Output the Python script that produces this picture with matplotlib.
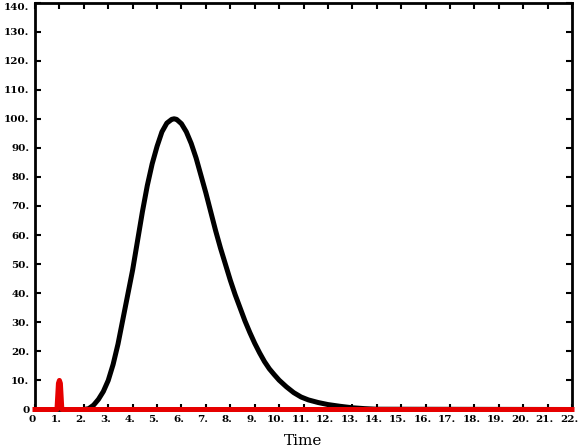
import matplotlib
matplotlib.use("Agg")
import matplotlib.pyplot as plt
from matplotlib.transforms import ScaledTranslation

# black curve, values
time_black = [0, 2.0, 2.2, 2.4, 2.6, 2.8, 3.0, 3.2, 3.4, 3.6, 3.8, 4.0, 4.2, 4.4,
              4.6, 4.8, 5.0, 5.2, 5.4, 5.6, 5.7, 5.8, 6.0, 6.2, 6.4, 6.6, 6.8,
              7.0, 7.2, 7.4, 7.6, 7.8, 8.0, 8.2, 8.4, 8.6, 8.8, 9.0, 9.2, 9.4,
              9.6, 9.8, 10.0, 10.3, 10.6, 10.9, 11.2, 11.6, 12.0, 12.5, 13.0,
              13.5, 14.0, 22]
val_black = [0, 0, 0.3, 1.5, 3.5, 6.2, 10, 15.5, 22.5, 31, 39.5, 48, 58, 68,
             77, 84.5, 90.5, 95.5, 98.5, 99.8, 100, 99.8, 98.3, 95.5, 91.5, 86.5, 80.5,
             74.5, 68, 61.5, 55.5, 50, 44.5, 39.5, 35, 30.5, 26.5, 22.8, 19.5, 16.5,
             14, 12, 10.1, 7.8, 5.8, 4.3, 3.3, 2.4, 1.7, 1.1, 0.6,
             0.3, 0.1, 0]

# red pulse
time_red = [0, 0.9, 0.96, 1.0, 1.04, 1.1, 22]
val_red = [0, 0, 9, 10, 9, 0, 0]

xticks = list(range(0, 23))
xlabels = ["0"] + ["%d." % v for v in xticks[1:]]
yticks = list(range(0, 141, 10))
ylabels = ["0"] + ["%d." % v for v in yticks[1:]]

fig = plt.figure(figsize=(5.79, 4.47), dpi=100)
ax = fig.add_axes([35 / 579, 1 - 409.5 / 447, (572 - 35) / 579, (409.5 - 2.5) / 447])

ax.plot(time_black, val_black, color="black", lw=3.6, solid_joinstyle="round")
ax.plot(time_red, val_red, color="#e60000", lw=3.6, clip_on=False, zorder=5)

ax.set_xlim(0, 22)
ax.set_ylim(0, 140)
ax.set_xticks(xticks)
ax.set_xticklabels(xlabels)
ax.set_yticks(yticks)
ax.set_yticklabels(ylabels)

for s in ax.spines.values():
    s.set_linewidth(2)
ax.tick_params(direction="in", length=4, width=1.5, top=True, right=True,
               labelsize=7.5, pad=4)

shift = ScaledTranslation(-3 / 100, 0, fig.dpi_scale_trans)
for lab in ax.get_xticklabels():
    lab.set_fontfamily("DejaVu Serif")
    lab.set_fontweight("bold")
    lab.set_transform(lab.get_transform() + shift)
for lab in ax.get_yticklabels():
    lab.set_fontfamily("DejaVu Serif")
    lab.set_fontweight("bold")
ax.get_yticklabels()[-1].set_verticalalignment("top")

ax.set_xlabel("Time", fontfamily="DejaVu Serif", fontsize=11, labelpad=7)

fig.savefig("out.png", dpi=100)
